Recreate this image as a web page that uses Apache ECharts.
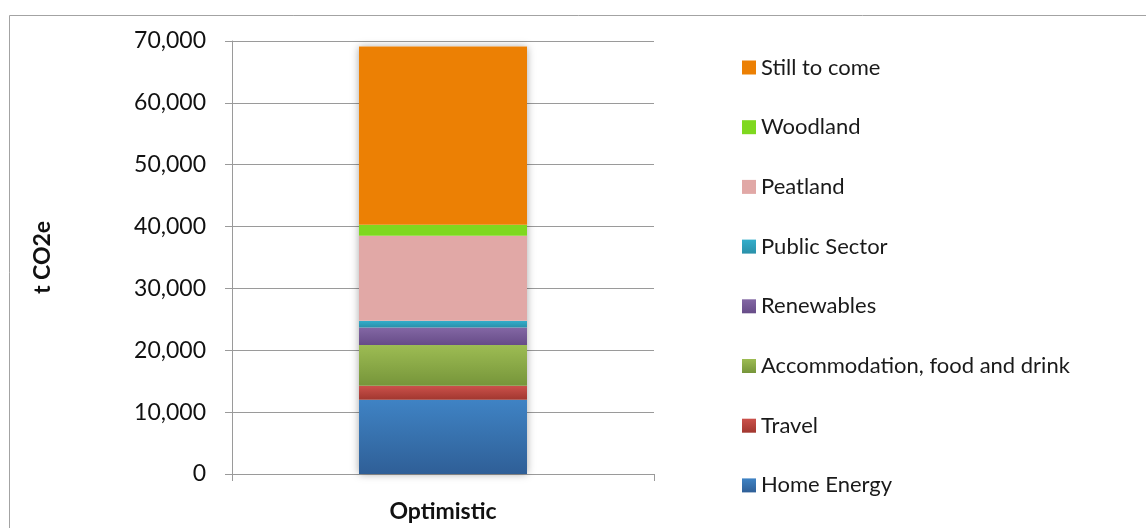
<!DOCTYPE html>
<html>
<head>
<meta charset="utf-8">
<script src="https://cdn.jsdelivr.net/npm/echarts@6/dist/echarts.min.js"></script>
<style>
html,body{margin:0;padding:0;background:#fff;}
#c{width:1146px;height:528px;}
</style>
</head>
<body>
<div id="c"></div>
<script>
const categories = ['Optimistic'];
const seriesNames = ['Home Energy','Travel','Accommodation, food and drink','Renewables','Public Sector','Peatland','Woodland','Still to come'];
const homeEnergy = [12000];
const travel = [2250];
const accommodation = [6620];
const renewables = [2800];
const publicSector = [1090];
const peatland = [13740];
const woodland = [1800];
const stillToCome = [28800];
const yTicks = [0,10000,20000,30000,40000,50000,60000,70000];

const seriesValues = [homeEnergy, travel, accommodation, renewables, publicSector, peatland, woodland, stillToCome];
const colorPairs = [
  ['#3f83c4','#2f5f97'],
  ['#cb514b','#a1372f'],
  ['#9dbc53','#76953a'],
  ['#8367a4','#674c88'],
  ['#33aecb','#2a90a9'],
  ['#e1a8a6','#e1a8a6'],
  ['#7fd81f','#7fd81f'],
  ['#ec8004','#ec8004']
];
function grad(p){
  return {type:'linear',x:0,y:0,x2:0,y2:1,colorStops:[{offset:0,color:p[0]},{offset:1,color:p[1]}]};
}
const FONT = 'Lato';
const totals = categories.map((c,i)=>seriesValues.reduce((s,a)=>s+a[i],0));

const series = seriesNames.map((n,k)=>({
  name:n, type:'bar', stack:'total', barWidth:168, z:3,
  itemStyle:{color:grad(colorPairs[k])},
  data:seriesValues[k]
}));
series.push({
  name:'_shadow', type:'bar', barWidth:168, barGap:'-100%', z:1, silent:true,
  itemStyle:{color:'#ffffff', shadowColor:'rgba(0,0,0,0.35)', shadowBlur:8},
  data:totals
});

const chart = echarts.init(document.getElementById('c'), null, {renderer:'canvas'});
chart.setOption({
  animation:false,
  backgroundColor:'#fff',
  graphic:[{type:'rect', shape:{x:9.5,y:15.5,width:1300,height:700}, style:{fill:'none',stroke:'#a3a3a3',lineWidth:1}, z:0, silent:true}],
  grid:{left:232,right:492,top:41,bottom:54,containLabel:false},
  legend:{
    orient:'vertical', left:742, top:56.5, padding:0,
    itemWidth:14, itemHeight:14, itemGap:37.7,
    icon:'rect',
    data:seriesNames.slice().reverse(),
    textStyle:{fontFamily:FONT,fontSize:22,color:'#1a1a1a',padding:[0,0,0,0]}
  },
  xAxis:{
    type:'category', data:categories,
    axisLine:{lineStyle:{color:'#9a9a9a',width:1}},
    axisTick:{show:true,length:7,lineStyle:{color:'#9a9a9a'}},
    axisLabel:{fontFamily:FONT,fontSize:23,fontWeight:'bold',color:'#111',margin:26}
  },
  yAxis:{
    type:'value', min:0, max:70000, interval:10000,
    name:'t CO2e', nameLocation:'middle', nameGap:178,
    nameTextStyle:{fontFamily:FONT,fontSize:23,fontWeight:'bold',color:'#111'},
    axisLine:{show:true,lineStyle:{color:'#9a9a9a',width:1}},
    axisTick:{show:true,length:7,lineStyle:{color:'#9a9a9a'}},
    splitLine:{lineStyle:{color:'#9a9a9a',width:1}},
    axisLabel:{fontFamily:FONT,fontSize:23,color:'#111',margin:26,
      formatter:v=>yTicks.includes(v)?v.toLocaleString('en-US'):''}
  },
  series:series
});
</script>
</body>
</html>
